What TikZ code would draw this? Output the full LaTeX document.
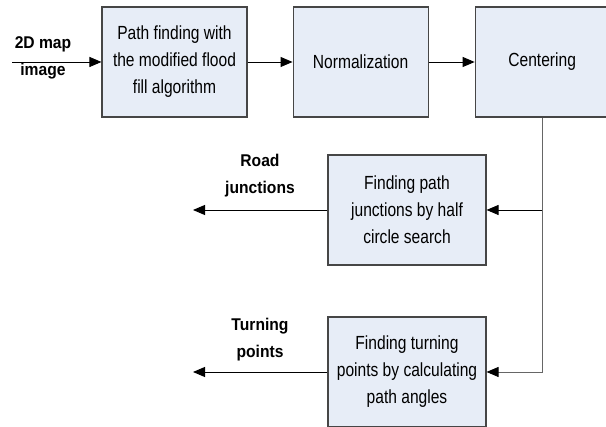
\documentclass[tikz,border=0pt]{standalone}
\usepackage{fontspec}
\setmainfont{Liberation Sans}
\newfontfamily\boxfont{Liberation Sans}[FakeStretch=0.82]
\newfontfamily\labelfont{Liberation Sans}[FakeStretch=0.92]
\usepackage{xcolor}
\usepackage{tikz}
\usetikzlibrary{shapes,arrows.meta,positioning}

\definecolor{boxfill}{RGB}{231,237,247}
\definecolor{boxline}{RGB}{70,70,70}

\begin{document}
\begin{tikzpicture}[x=1pt, y=1pt, node distance=45pt]
    % Define styles
    \tikzstyle{process} = [rectangle, minimum width=145pt, minimum height=110pt, align=center, draw=boxline, line width=1.1pt, fill=boxfill, font=\boxfont\fontsize{19}{27}\selectfont]
    \tikzstyle{label} = [align=center, font=\labelfont\bfseries\fontsize{17}{27}\selectfont]
    \tikzstyle{line} = [draw=black, line width=0.9pt, -{Triangle[length=12pt,width=10pt,color=black]}]

    \useasboundingbox (0,0) rectangle (606,427);

    % Nodes
    \node[process] (flood) at (174.5,365) {Path finding with\\the modified flood\\fill algorithm};
    \node[process, minimum width=135pt, right=45pt of flood] (norm) {Normalization};
    \node[process, minimum width=134pt, right=46pt of norm] (center) {Centering};
    \node[process, minimum width=158pt] (junc) at (407,217) {Finding path\\junctions by half\\circle search};
    \node[process, minimum width=158pt] (turn) at (407,55) {Finding turning\\points by calculating\\path angles};

    \node[label] (mapimg) at (43,369) {2D map\\image};
    \node[label] (roadjunc) at (260,251) {Road\\junctions};
    \node[label] (turnpts) at (260,87) {Turning\\points};

    \coordinate (in) at (12,365);
    \coordinate (juncout) at (193,217);
    \coordinate (turnout) at (193,55);

    % Connections
    \draw[line] (in) -- (flood);
    \draw[line] (flood) -- (norm);
    \draw[line] (norm) -- (center);
    \draw[line, draw=black!60] (center.south) |- (turn.east);
    \draw[line] (center.south |- junc.east) -- (junc.east);
    \draw[line] (junc) -- (juncout);
    \draw[line] (turn) -- (turnout);
\end{tikzpicture}
\end{document}
